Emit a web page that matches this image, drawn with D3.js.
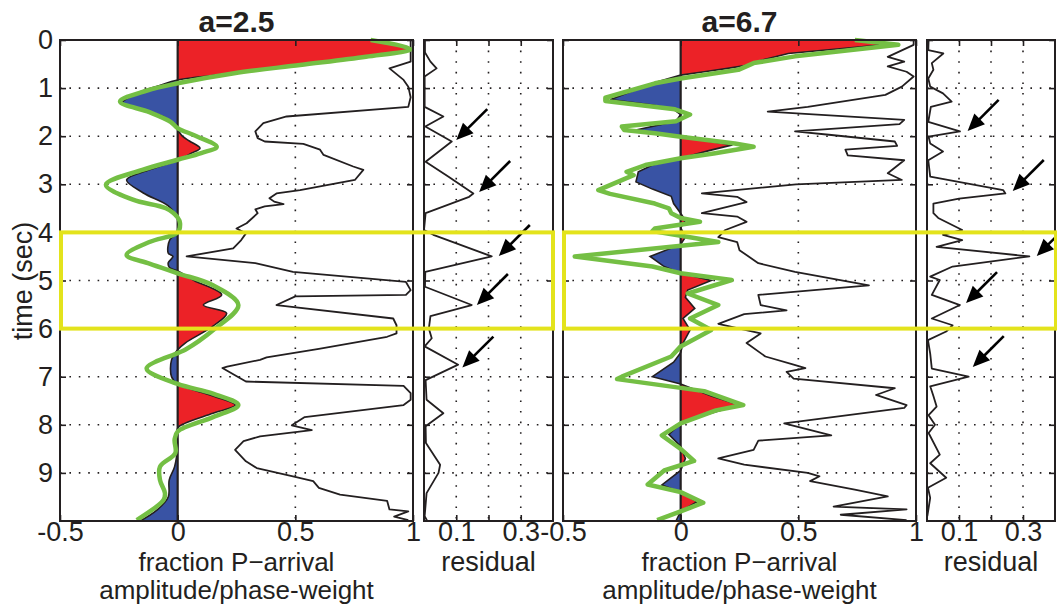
<!DOCTYPE html>
<html>
<head>
<meta charset="utf-8">
<script src="https://cdn.jsdelivr.net/npm/d3@7"></script>
<style>
  body { margin: 0; background: #fff; }
  svg text { font-family: "Liberation Sans", Arial, Helvetica, sans-serif; fill: #231f20; }
</style>
</head>
<body>
<svg id="chart" width="1057" height="608"></svg>
<script>
// ---- data (time in sec, value) ----
const titles = ['a=2.5', 'a=6.7'];
const timeTicks = [0, 1, 2, 3, 4, 5, 6, 7, 8, 9];
const mainTicks = [-0.5, 0, 0.5, 1];
const resTicks = [0.1, 0.2, 0.3];
const boxTimes = [4, 6];

// a=2.5 : filled P-arrival fraction trace
const fillA = [[0, 0.84], [0.19, 0.98], [0.35, 0.80], [0.52, 0.52], [0.69, 0.24], [0.83, 0.0], [0.95, -0.08],
  [1.1, -0.17], [1.31, -0.235], [1.455, -0.146], [1.59, -0.061], [1.7, -0.03], [1.87, 0], [2.0, 0.02],
  [2.1, 0.05], [2.25, 0.095], [2.35, 0.06], [2.5, 0], [2.7, -0.12], [2.91, -0.217], [3.18, -0.146],
  [3.45, -0.04], [3.73, 0], [4.0, 0], [4.15, -0.033], [4.43, -0.04], [4.5, -0.02], [4.63, -0.04],
  [4.73, -0.035], [4.8, 0], [5.0, 0.07], [5.3, 0.187], [5.51, 0.109], [5.68, 0.208], [5.95, 0.15],
  [6.3, 0.032], [6.44, 0], [6.65, -0.026], [7.0, -0.026], [7.15, 0], [7.4, 0.15], [7.59, 0.245],
  [7.76, 0.15], [7.97, 0.03], [8.07, 0], [8.44, 0], [8.87, -0.013], [9.15, -0.036], [9.5, -0.04],
  [9.78, -0.09], [10, -0.16]];
const greenA = [[0, 0.82], [0.19, 0.99], [0.35, 0.80], [0.52, 0.52], [0.69, 0.24], [0.9, 0], [1.05, -0.13],
  [1.28, -0.245], [1.5, -0.12], [1.7, -0.03], [1.83, 0], [2.0, 0.08], [2.22, 0.166], [2.35, 0.1],
  [2.49, 0], [2.7, -0.15], [3.01, -0.305], [3.32, -0.19], [3.5, -0.05], [3.69, 0], [3.81, 0.01],
  [4.0, 0], [4.2, -0.12], [4.47, -0.217], [4.65, -0.12], [4.85, 0], [5.1, 0.15], [5.51, 0.258],
  [6.03, 0.151], [6.44, 0.032], [6.51, 0], [6.83, -0.132], [7.15, 0], [7.35, 0.15], [7.59, 0.258],
  [7.84, 0.15], [8.14, 0], [8.31, -0.013], [8.59, -0.01], [8.87, -0.075], [9.15, -0.075],
  [9.42, -0.054], [9.56, -0.06], [9.98, -0.174]];
const ampA = [[0, 0.99], [0.45, 0.99], [0.59, 0.90], [0.83, 0.96], [0.97, 0.98], [1.19, 0.99], [1.39, 0.98],
  [1.59, 0.463], [1.73, 0.364], [1.9, 0.33], [2.04, 0.34], [2.11, 0.37], [2.16, 0.534], [2.28, 0.605],
  [2.39, 0.62], [2.63, 0.746], [2.70, 0.789], [2.91, 0.753], [3.12, 0.52], [3.19, 0.42], [3.29, 0.39],
  [3.36, 0.41], [3.41, 0.45], [3.46, 0.37], [3.52, 0.33], [3.6, 0.34], [3.81, 0.293], [3.92, 0.25],
  [4.02, 0.29], [4.16, 0.27], [4.33, 0.236], [4.5, 0.038], [4.64, 0.33], [4.82, 0.49], [5.03, 0.97],
  [5.2, 0.99], [5.3, 0.97], [5.33, 0.50], [5.51, 0.42], [5.79, 0.916], [5.93, 0.93], [6.1, 0.93],
  [6.17, 0.89], [6.42, 0.60], [6.6, 0.378], [6.65, 0.35], [6.79, 0.21], [6.82, 0.19], [7.1, 0.29],
  [7.19, 0.96], [7.34, 0.99], [7.48, 0.99], [7.59, 0.96], [7.84, 0.54], [8.01, 0.485], [8.11, 0.57],
  [8.24, 0.35], [8.34, 0.28], [8.52, 0.244], [8.76, 0.29], [8.90, 0.336], [9.07, 0.49], [9.17, 0.576],
  [9.31, 0.60], [9.45, 0.69], [9.58, 0.89], [9.76, 0.90], [9.8, 0.98], [9.91, 0.92], [9.98, 0.98]];
const resA = [[0, 0.003], [0.26, 0.003], [0.45, 0.02], [0.59, 0.039], [0.76, 0.002], [1.39, 0.002],
  [1.59, 0.06], [1.80, 0.004], [2.11, 0.086], [2.53, 0.005], [2.84, 0.075], [3.19, 0.153], [3.26, 0.14],
  [3.6, 0.005], [3.95, 0.0], [4.05, 0.029], [4.5, 0.21], [4.82, 0.004], [5.13, 0.003], [5.51, 0.148],
  [5.74, 0.02], [6.0, 0.015], [6.2, 0.024], [6.37, 0.002], [6.75, 0.106], [7.07, 0.005], [7.48, 0.008],
  [7.76, 0.06], [8.03, 0.005], [8.38, 0.006], [8.83, 0.05], [9.0, 0.045], [9.42, 0.008], [9.9, 0.002],
  [10, 0.01]];
const arrowsA = [[2.08, 0.10], [3.16, 0.171], [4.49, 0.232], [5.51, 0.164], [6.81, 0.119]];

// a=6.7
const fillB = [[0, 0.74], [0.1, 0.86], [0.28, 0.457], [0.42, 0.344], [0.52, 0.287], [0.59, 0.2],
  [0.66, 0.1], [0.73, 0], [0.9, -0.12], [1.24, -0.30], [1.35, -0.12], [1.44, -0.03], [1.55, 0],
  [1.69, -0.02], [1.87, -0.19], [2.01, 0], [2.18, 0.22], [2.3, 0.12], [2.46, 0], [2.6, -0.12],
  [2.74, -0.18], [2.95, -0.19], [3.1, -0.12], [3.25, -0.04], [3.4, -0.03], [3.6, 0], [3.75, 0.02],
  [3.9, 0], [4.1, 0.02], [4.25, 0], [4.5, -0.13], [4.71, -0.07], [4.85, 0], [5.0, 0.13], [5.2, 0.03],
  [5.35, 0.02], [5.58, 0.06], [5.79, 0.01], [6.03, 0.04], [6.3, 0.01], [6.5, 0], [6.7, -0.03],
  [7.0, -0.12], [7.15, 0], [7.4, 0.13], [7.59, 0.25], [7.9, 0.03], [7.97, 0], [8.2, -0.05], [8.45, 0],
  [8.7, 0.02], [8.95, 0], [9.25, -0.08], [9.4, 0], [9.6, 0.07], [9.8, 0], [10, -0.02]];
const greenB = [[0, 0.74], [0.1, 0.925], [0.34, 0.486], [0.48, 0.31], [0.62, 0.245], [0.8, 0],
  [0.9, -0.109], [1.2, -0.32], [1.27, -0.32], [1.44, -0.024], [1.55, 0.04], [1.69, -0.02], [1.8, -0.25],
  [1.87, -0.24], [1.94, -0.11], [2.01, 0], [2.15, 0.23], [2.22, 0.31], [2.36, 0.14], [2.46, 0],
  [2.6, -0.15], [2.74, -0.23], [2.81, -0.20], [3.12, -0.35], [3.2, -0.3], [3.4, -0.11], [3.5, -0.05],
  [3.6, -0.04], [3.7, 0], [3.78, 0.082], [3.92, -0.11], [3.97, -0.12], [4.2, 0.16], [4.5, -0.45],
  [4.71, -0.12], [4.85, 0], [4.99, 0.217], [5.27, 0.03], [5.51, 0.16], [5.79, 0.04], [6.03, 0.13],
  [6.37, 0], [6.58, -0.04], [7.0, -0.25], [7.05, -0.27], [7.3, 0.1], [7.59, 0.266], [7.7, 0.15],
  [7.97, 0], [8.22, -0.08], [8.5, 0], [8.75, 0.057], [8.95, -0.07], [9.24, -0.14], [9.4, 0],
  [9.62, 0.096], [9.8, 0], [9.98, -0.1]];
const ampB = [[0, 0.99], [0.1, 0.99], [0.35, 0.88], [0.45, 0.95], [0.55, 0.88], [0.66, 0.96], [0.76, 0.99],
  [0.97, 0.94], [1.14, 0.87], [1.39, 0.54], [1.49, 0.37], [1.66, 0.95], [1.75, 0.93], [1.9, 0.486],
  [1.97, 0.63], [2.11, 0.91], [2.2, 0.92], [2.28, 0.70], [2.4, 0.71], [2.5, 0.95], [2.77, 0.88],
  [2.91, 0.94], [3.0, 0.49], [3.19, 0.09], [3.26, 0.24], [3.37, 0.28], [3.6, 0.09], [3.67, 0.24],
  [3.78, 0.28], [3.95, 0.19], [4.1, 0.16], [4.2, 0.24], [4.37, 0.25], [4.64, 0.33], [4.82, 0.486],
  [5.1, 0.80], [5.3, 0.33], [5.51, 0.34], [5.62, 0.45], [5.7, 0.27], [5.9, 0.16], [6.1, 0.34],
  [6.3, 0.28], [6.58, 0.36], [6.75, 0.48], [6.82, 0.53], [6.9, 0.45], [7.04, 0.48], [7.24, 0.91],
  [7.38, 0.83], [7.59, 0.96], [7.65, 0.95], [7.97, 0.44], [8.22, 0.64], [8.33, 0.33], [8.52, 0.31],
  [8.7, 0.16], [8.83, 0.27], [9.0, 0.54], [9.07, 0.59], [9.17, 0.55], [9.35, 0.74], [9.49, 0.88],
  [9.7, 0.65], [9.76, 0.96], [9.87, 0.68], [9.98, 0.96]];
const resB = [[0, 0.005], [0.21, 0.004], [0.28, 0.051], [0.48, 0.015], [0.62, 0.02], [0.8, 0.004],
  [0.97, 0.01], [1.11, 0.05], [1.28, 0.077], [1.39, 0.012], [1.7, 0.004], [1.9, 0.103], [2.01, 0.005],
  [2.15, 0.01], [2.32, 0.05], [2.5, 0.004], [2.84, 0.01], [3.12, 0.238], [3.19, 0.245], [3.3, 0.10],
  [3.4, 0.02], [3.6, 0.02], [3.7, 0.035], [3.95, 0.11], [4.05, 0.05], [4.16, 0.11], [4.3, 0.03],
  [4.5, 0.32], [4.71, 0.08], [4.92, 0.01], [4.99, 0.04], [5.3, 0.015], [5.51, 0.103], [5.79, 0.015],
  [5.93, 0.08], [6.06, 0.06], [6.24, 0.003], [6.52, 0.01], [6.83, 0.015], [7.0, 0.13], [7.2, 0.01],
  [7.4, 0.02], [7.62, 0.03], [7.8, 0.005], [8.0, 0.025], [8.17, 0.005], [8.62, 0.04], [8.8, 0.01],
  [9.1, 0.06], [9.31, 0.003], [9.52, 0.01], [9.9, 0.001]];
const arrowsB = [[1.89, 0.127], [3.14, 0.268], [4.49, 0.343], [5.47, 0.122], [6.8, 0.143]];

// ---- layout ----
const ink = '#231f20', red = '#ec2227', blue = '#3953a4', green = '#74bf44', yellow = '#e3e31c';
const fontSize = 27;
const svg = d3.select('#chart');
const defs = svg.append('defs');
const y = d3.scaleLinear().domain([0, 10]).range([40, 521]);
const [yTop, yBot] = y.range();

const panels = [
  { title: titles[0], main: [60, 413], res: [424, 553], fill: fillA, green: greenA, amp: ampA, res_: resA,
    arrows: arrowsA, smooth: true, yLabels: true, box: [61, 553] },
  { title: titles[1], main: [563, 916], res: [927, 1055], fill: fillB, green: greenB, amp: ampB, res_: resB,
    arrows: arrowsB, smooth: false, yLabels: false, box: [564, 1056] }
];

function gridAndFrame(g, x, vgrid) {
  const [xl, xr] = x.range();
  g.append('g').selectAll('line').data(timeTicks.slice(1)).join('line')
    .attr('x1', xl).attr('x2', xr).attr('y1', d => y(d)).attr('y2', d => y(d))
    .attr('stroke', ink).attr('stroke-width', 1.6).attr('stroke-dasharray', '1.6,7.8');
  g.append('g').selectAll('line').data(vgrid).join('line')
    .attr('x1', d => x(d)).attr('x2', d => x(d)).attr('y1', yTop).attr('y2', yBot)
    .attr('stroke', ink).attr('stroke-width', 1.6).attr('stroke-dasharray', '1.6,9');
}

function axes(g, x, xticks, xfmt, showY) {
  const [xl, xr] = x.range();
  const styleAx = sel => {
    sel.select('.domain').remove();
    sel.selectAll('line').attr('stroke', ink).attr('stroke-width', 1.6);
    sel.selectAll('text').style('font-size', fontSize + 'px').attr('fill', ink);
  };
  g.append('g').attr('transform', `translate(${xl},0)`)
    .call(d3.axisLeft(y).tickValues(timeTicks).tickSize(-6).tickPadding(7).tickFormat(showY ? d => d : ''))
    .call(styleAx);
  g.append('g').attr('transform', `translate(${xr},0)`)
    .call(d3.axisRight(y).tickValues(timeTicks).tickSize(-6).tickFormat('')).call(styleAx);
  g.append('g').attr('transform', `translate(0,${yTop})`)
    .call(d3.axisTop(x).tickValues(xticks).tickSize(-6).tickFormat('')).call(styleAx);
  g.append('g').attr('transform', `translate(0,${yBot})`)
    .call(d3.axisBottom(x).tickValues(xticks).tickSize(-6).tickPadding(1).tickFormat(xfmt)).call(styleAx);
  g.append('rect').attr('x', xl).attr('y', yTop).attr('width', xr - xl).attr('height', yBot - yTop)
    .attr('fill', 'none').attr('stroke', ink).attr('stroke-width', 2);
}

panels.forEach((p, i) => {
  const g = svg.append('g');
  const x = d3.scaleLinear().domain([-0.5, 1]).range(p.main);
  const xr = d3.scaleLinear().domain([0, 0.4]).range(p.res);
  const curve = p.smooth ? d3.curveCatmullRom.alpha(0.5) : d3.curveLinear;

  // clip halves for red / blue fill
  defs.append('clipPath').attr('id', `pos${i}`).append('rect')
    .attr('x', x(0)).attr('y', yTop).attr('width', p.main[1] - x(0)).attr('height', yBot - yTop);
  defs.append('clipPath').attr('id', `neg${i}`).append('rect')
    .attr('x', p.main[0]).attr('y', yTop).attr('width', x(0) - p.main[0]).attr('height', yBot - yTop);
  defs.append('clipPath').attr('id', `box${i}`).append('rect')
    .attr('x', p.main[0] - 2).attr('y', yTop - 4).attr('width', p.main[1] - p.main[0] + 4).attr('height', yBot - yTop + 8);

  gridAndFrame(g, x, [0.5]);
  gridAndFrame(g, xr, resTicks);

  const area = d3.area().y(d => y(d[0])).x0(x(0)).x1(d => x(d[1])).curve(curve);
  g.append('path').datum(p.fill).attr('d', area).attr('fill', red).attr('clip-path', `url(#pos${i})`);
  g.append('path').datum(p.fill).attr('d', area).attr('fill', blue).attr('clip-path', `url(#neg${i})`);

  const line = d3.line().x(d => x(d[1])).y(d => y(d[0])).curve(curve);
  g.append('path').datum(p.fill).attr('d', line).attr('fill', 'none').attr('stroke', ink).attr('stroke-width', 1.6);

  // zero line
  g.append('line').attr('x1', x(0)).attr('x2', x(0)).attr('y1', yTop).attr('y2', yBot)
    .attr('stroke', ink).attr('stroke-width', 2.2);

  g.append('path').datum(p.amp).attr('d', d3.line().x(d => x(d[1])).y(d => y(d[0])))
    .attr('fill', 'none').attr('stroke', ink).attr('stroke-width', 1.8).attr('stroke-linejoin', 'round')
    .attr('clip-path', `url(#box${i})`);

  g.append('path').datum(p.green).attr('d', line).attr('fill', 'none').attr('stroke', green)
    .attr('stroke-width', 4.5).attr('stroke-linejoin', 'round').attr('clip-path', `url(#box${i})`);

  // residual trace
  g.append('path').datum(p.res_).attr('d', d3.line().x(d => xr(d[1])).y(d => y(d[0])))
    .attr('fill', 'none').attr('stroke', ink).attr('stroke-width', 1.8).attr('stroke-linejoin', 'round');

  axes(g, x, mainTicks, d => String(d), p.yLabels);
  axes(g, xr, resTicks, d => (d === 0.2 ? '' : String(d)), false);

  // arrows pointing at residual peaks
  p.arrows.forEach(a => {
    const tx = xr(a[1]), ty = y(a[0]);
    const sx = tx + 31, sy = ty - 31;
    const len = Math.hypot(tx - sx, ty - sy), ux = (tx - sx) / len, uy = (ty - sy) / len;
    const hl = 17, hw = 7.5;
    const bx = tx - ux * hl, by = ty - uy * hl;
    g.append('line').attr('x1', sx).attr('y1', sy).attr('x2', bx + ux * 2).attr('y2', by + uy * 2)
      .attr('stroke', '#000').attr('stroke-width', 2.6);
    g.append('path')
      .attr('d', `M${tx},${ty}L${bx - uy * hw},${by + ux * hw}L${bx + uy * hw},${by - ux * hw}Z`)
      .attr('fill', '#000');
  });

  // yellow window
  g.append('rect').attr('x', p.box[0]).attr('y', y(boxTimes[0])).attr('width', p.box[1] - p.box[0])
    .attr('height', y(boxTimes[1]) - y(boxTimes[0])).attr('fill', 'none')
    .attr('stroke', yellow).attr('stroke-width', 4);

  // labels
  const cx = (p.main[0] + p.main[1]) / 2;
  g.append('text').attr('x', cx).attr('y', 32).attr('text-anchor', 'middle')
    .style('font-size', '30px').style('font-weight', 'bold').text(p.title);
  g.append('text').attr('x', cx).attr('y', 571).attr('text-anchor', 'middle')
    .style('font-size', '26px').text('fraction P\u2212arrival');
  g.append('text').attr('x', cx).attr('y', 599).attr('text-anchor', 'middle')
    .style('font-size', '26px').text('amplitude/phase-weight');
  g.append('text').attr('x', (p.res[0] + p.res[1]) / 2).attr('y', 571).attr('text-anchor', 'middle')
    .style('font-size', fontSize + 'px').text('residual');
});

svg.append('text').attr('transform', 'translate(32,281) rotate(-90)').attr('text-anchor', 'middle')
  .style('font-size', fontSize + 'px').text('time (sec)');
</script>
</body>
</html>
